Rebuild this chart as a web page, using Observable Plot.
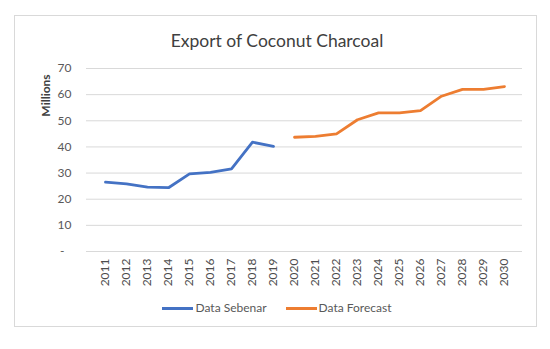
<!DOCTYPE html>
<html>
<head>
<meta charset="utf-8">
<script src="https://cdn.jsdelivr.net/npm/d3@7"></script>
<script src="https://cdn.jsdelivr.net/npm/@observablehq/plot@0.6"></script>
<style>
  html, body { margin: 0; padding: 0; background: #fff; }
  body { width: 550px; height: 349px; position: relative; overflow: hidden; font-family: Lato, "Open Sans", sans-serif; }
  #frame { position: absolute; left: 14px; top: 15px; width: 523px; height: 312px; box-sizing: border-box; border: 1px solid #d9d9d9; }
  #title { position: absolute; left: 0; top: 29px; width: 554px; text-align: center; font-size: 17.5px; color: #404040; line-height: 24px; }
  #chart { position: absolute; left: 0; top: 55px; }
  #legend { position: absolute; left: 0; top: 300px; width: 554px; display: flex; justify-content: center; gap: 19px; font-size: 12px; color: #595959; line-height: 16px; }
  .item { display: flex; align-items: center; }
  .swatch { width: 31px; height: 3px; margin-right: 2px; }
</style>
</head>
<body>
<div id="frame"></div>
<div id="title">Export of Coconut Charcoal</div>
<div id="chart"></div>
<div id="legend"></div>
<script>
const years = ["2011","2012","2013","2014","2015","2016","2017","2018","2019","2020",
               "2021","2022","2023","2024","2025","2026","2027","2028","2029","2030"];
const actualYears = ["2011","2012","2013","2014","2015","2016","2017","2018","2019"];
const actualValues = [26.5, 25.9, 24.6, 24.4, 29.7, 30.3, 31.6, 41.8, 40.2];
const forecastYears = ["2020","2021","2022","2023","2024","2025","2026","2027","2028","2029","2030"];
const forecastValues = [43.7, 44.0, 45.0, 50.4, 53.0, 53.0, 53.9, 59.4, 62.0, 62.0, 63.1];
const yTicks = [0, 10, 20, 30, 40, 50, 60, 70];
const seriesNames = ["Data Sebenar", "Data Forecast"];
const seriesColors = ["#4472C4", "#ED7D31"];

const actual = actualYears.map((y, i) => ({year: y, value: actualValues[i]}));
const forecast = forecastYears.map((y, i) => ({year: y, value: forecastValues[i]}));

const plot = Plot.plot({
  width: 550,
  height: 245,
  marginLeft: 86,
  marginRight: 28,
  marginTop: 13,
  marginBottom: 49,
  style: { fontFamily: "Lato, 'Open Sans', sans-serif", fontSize: "12px", color: "#595959", background: "transparent" },
  x: { type: "point", domain: years, padding: 0.5, label: null },
  y: { domain: [0, 70], label: null },
  marks: [
    Plot.ruleY(yTicks, { stroke: "#d9d9d9", strokeWidth: 1 }),
    Plot.axisY(yTicks.filter(d => d !== 0), { tickSize: 0, tickPadding: 15, label: null, fill: "#595959" }),
    Plot.axisY([0], { tickSize: 0, tickPadding: 22, tickFormat: () => "-", label: null, fill: "#595959" }),
    Plot.axisX(years, { tickSize: 0, tickPadding: 7, tickRotate: -90, label: null, fill: "#4d4d4d" }),
    Plot.text(["Millions"], { frameAnchor: "top-left", dx: -45, dy: 27, rotate: -90, text: d => d, fontWeight: "bold", fontSize: 12, fill: "#404040", textAnchor: "middle" }),
    Plot.line(actual, { x: "year", y: "value", stroke: seriesColors[0], strokeWidth: 2.8 }),
    Plot.line(forecast, { x: "year", y: "value", stroke: seriesColors[1], strokeWidth: 2.8 })
  ]
});
document.getElementById("chart").appendChild(plot);

const legend = document.getElementById("legend");
seriesNames.forEach((name, i) => {
  const item = document.createElement("div");
  item.className = "item";
  const sw = document.createElement("span");
  sw.className = "swatch";
  sw.style.background = seriesColors[i];
  const lab = document.createElement("span");
  lab.textContent = name;
  item.appendChild(sw);
  item.appendChild(lab);
  legend.appendChild(item);
});
</script>
</body>
</html>
